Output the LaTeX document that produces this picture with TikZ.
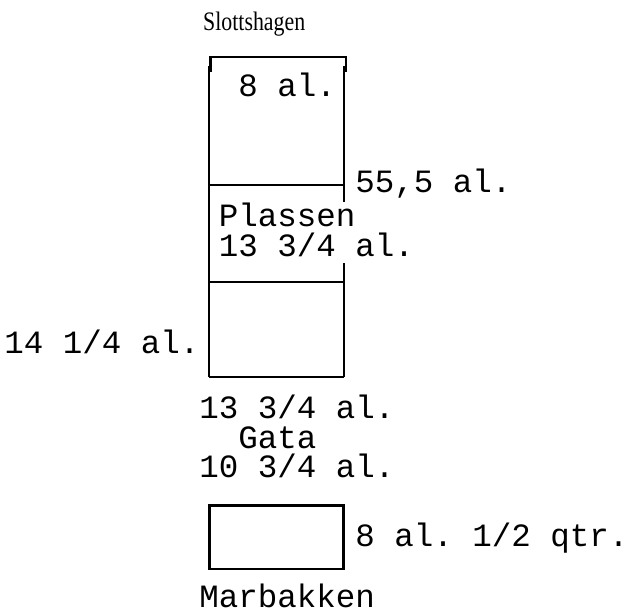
\documentclass[tikz,border=0pt]{standalone}
\usepackage{fontspec}
\newfontfamily\monofam{Liberation Mono}
\newfontfamily\seriffam{Liberation Serif}
\frenchspacing
\begin{document}
\begin{tikzpicture}[x=1pt,y=-1pt,
  mono/.style={anchor=base west,inner sep=0pt,font=\fontsize{32.5}{36}\selectfont\monofam\frenchspacing},
  title/.style={anchor=base west,inner sep=0pt},
  wall/.style={line width=2.6pt,black}]
\useasboundingbox (0,0) rectangle (621,612);
% title
\node[title] (slott) at (203,31) {\resizebox{102pt}{18.5pt}{\seriffam\fontsize{28}{30}\selectfont Slottshagen}};
% top frame with corners
\coordinate (tl) at (210.5,57);
\coordinate (tr) at (346,57);
\coordinate (tlb) at (210.5,72);
\coordinate (trb) at (346,72);
\draw[wall] (tlb) -- (tl) -- (tr) -- (trb);
% main walls
\coordinate (l1) at (208.8,66);
\coordinate (l2) at (208.8,377);
\coordinate (r1) at (344,66);
\coordinate (r2) at (344,202.3);
\coordinate (r3) at (344,263.3);
\coordinate (r4) at (344,377);
\draw[wall] (l1) -- (l2);
\draw[wall] (r1) -- (r2);
\draw[wall] (r3) -- (r4);
\draw[wall] (208.8,185) -- (344,185);
\draw[wall] (208.8,282) -- (344,282);
\draw[wall] (l2) -- (r4);
% small box
\draw[wall] (209.6,505.7) rectangle (343.4,569);
% labels
\node[mono] (a8) at (238.25,97) {8 al.};
\node[mono] (a555) at (355.25,193) {55,5 al.};
\node[mono] (plassen) at (218.75,226.7) {Plassen};
\node[mono] (p1334) at (218.75,256.7) {13 3/4 al.};
\node[mono] (a1414) at (4.25,353.3) {14 1/4 al.};
\node[mono] (b1334) at (199.25,418.3) {13 3/4 al.};
\node[mono] (gata) at (238.25,448.3) {Gata};
\node[mono] (a1034) at (199.25,477.3) {10 3/4 al.};
\node[mono] (a8half) at (355.25,546.7) {8 al. 1/2 qtr\rlap{.}};
\node[mono] (marb) at (199.25,607.3) {Marbakken};
\end{tikzpicture}
\end{document}
